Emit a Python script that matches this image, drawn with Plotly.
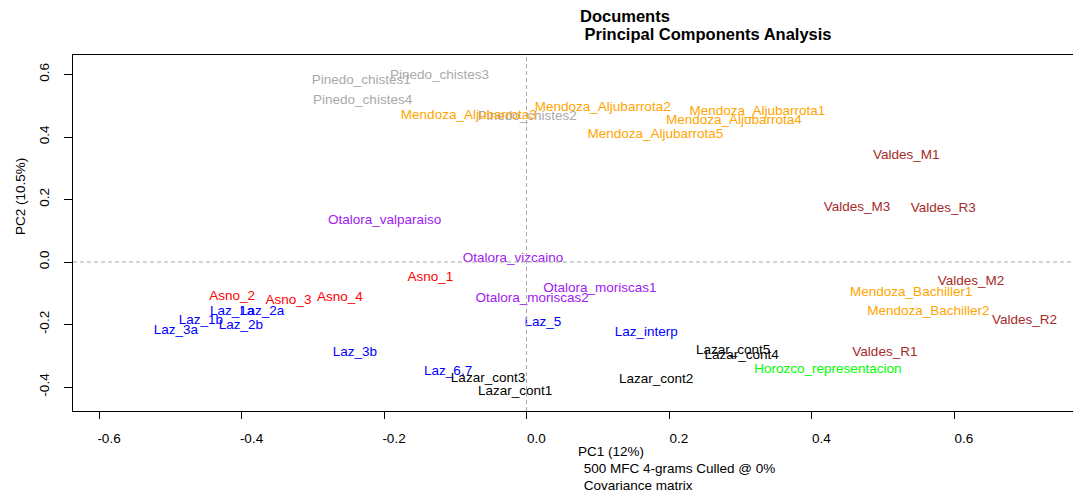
import plotly.graph_objects as go

# ---- data ----
labels = [
    "Pinedo_chistes1", "Pinedo_chistes3", "Pinedo_chistes4", "Pinedo_chistes2",
    "Mendoza_Aljubarrota3", "Mendoza_Aljubarrota2", "Mendoza_Aljubarrota1",
    "Mendoza_Aljubarrota4", "Mendoza_Aljubarrota5",
    "Valdes_M1", "Valdes_M3", "Valdes_R3",
    "Otalora_valparaiso", "Otalora_vizcaino", "Otalora_moriscas1", "Otalora_moriscas2",
    "Asno_1", "Asno_2", "Asno_3", "Asno_4",
    "Laz_1a", "Laz_2a", "Laz_1b", "Laz_2b", "Laz_3a", "Laz_3b", "Laz_5",
    "Laz_interp", "Laz_6,7",
    "Lazar_cont3", "Lazar_cont1", "Lazar_cont2", "Lazar_cont5", "Lazar_cont4",
    "Valdes_M2", "Mendoza_Bachiller1", "Mendoza_Bachiller2", "Valdes_R2", "Valdes_R1",
    "Horozco_representacion",
]
pc1 = [
    -0.232, -0.122, -0.230, 0.001,
    -0.081, 0.107, 0.324, 0.291, 0.181,
    0.533, 0.464, 0.585,
    -0.199, -0.019, 0.103, 0.008,
    -0.135, -0.413, -0.334, -0.262,
    -0.413, -0.371, -0.457, -0.401, -0.492, -0.241, 0.023,
    0.168, -0.110,
    -0.054, -0.016, 0.182, 0.290, 0.302,
    0.624, 0.540, 0.564, 0.699, 0.503,
    0.423,
]
pc2 = [
    0.579, 0.595, 0.517, 0.466,
    0.467, 0.494, 0.481, 0.454, 0.409,
    0.339, 0.173, 0.170,
    0.134, 0.010, -0.085, -0.117,
    -0.050, -0.111, -0.122, -0.114,
    -0.160, -0.160, -0.187, -0.204, -0.219, -0.291, -0.195,
    -0.226, -0.351,
    -0.372, -0.415, -0.375, -0.285, -0.300,
    -0.062, -0.098, -0.160, -0.188, -0.291,
    -0.345,
]
groups = [
    "Pinedo", "Pinedo", "Pinedo", "Pinedo",
    "Mendoza", "Mendoza", "Mendoza", "Mendoza", "Mendoza",
    "Valdes", "Valdes", "Valdes",
    "Otalora", "Otalora", "Otalora", "Otalora",
    "Asno", "Asno", "Asno", "Asno",
    "Laz", "Laz", "Laz", "Laz", "Laz", "Laz", "Laz", "Laz", "Laz",
    "Lazar", "Lazar", "Lazar", "Lazar", "Lazar",
    "Valdes", "Mendoza", "Mendoza", "Valdes", "Valdes",
    "Horozco",
]
group_order = ["Pinedo", "Mendoza", "Valdes", "Otalora", "Asno", "Laz", "Lazar", "Horozco"]
x_ticks = [-0.6, -0.4, -0.2, 0.0, 0.2, 0.4, 0.6]
y_ticks = [-0.4, -0.2, 0.0, 0.2, 0.4, 0.6]
title_lines = ["Documents", " Principal Components Analysis"]
x_caption = ["PC1 (12%)", " 500 MFC 4-grams Culled @ 0%", " Covariance matrix"]
y_title = "PC2 (10.5%)"

# ---- styles ----
colors = {
    "Pinedo": "#A9A9A9", "Mendoza": "#FFA500", "Valdes": "#A52A2A",
    "Otalora": "#A020F0", "Asno": "#FF0000", "Laz": "#0000FF",
    "Lazar": "#000000", "Horozco": "#00FF00",
}
FONT = "Liberation Sans, Arial, sans-serif"
W, H = 1073, 495
L, T, B = 73, 55, 411   # plot area pixels
R = 1073

fig = go.Figure()
for g in group_order:
    idx = [i for i, gg in enumerate(groups) if gg == g]
    fig.add_trace(go.Scatter(
        x=[pc1[i] for i in idx], y=[pc2[i] for i in idx],
        text=[labels[i] for i in idx],
        mode="text", textposition="middle center",
        textfont=dict(family=FONT, size=13.5, color=colors[g]),
        cliponaxis=False, showlegend=False, hoverinfo="text",
    ))

# reference lines at zero
fig.add_hline(y=0, line=dict(color="#A8A8A8", width=1, dash="4px,3px"))
fig.add_vline(x=0, line=dict(color="#A8A8A8", width=1, dash="4px,3px"))

# axis ranges chosen so 0 falls where the reference puts it
x0px, xscale = 526.5, 712.5
y0px, yscale = 262.0, 312.5
xr = [(L - x0px) / xscale, (R - x0px) / xscale]
yr = [(y0px - B) / yscale, (y0px - T) / yscale]

fig.update_layout(
    width=W, height=H,
    margin=dict(l=L, r=W - R, t=T, b=H - B, pad=0),
    paper_bgcolor="white", plot_bgcolor="white",
    font=dict(family=FONT, size=13.5, color="black"),
    xaxis=dict(
        range=xr, tickvals=x_ticks, ticktext=[f"{v:.1f}" for v in x_ticks],
        showgrid=False, zeroline=False, showline=True, linecolor="black",
        linewidth=1, mirror=True, ticks="outside", ticklen=7, tickcolor="black",
        tickfont=dict(family=FONT, size=13.5, color="black"),
        ticklabelshift=10, ticklabelstandoff=8,
    ),
    yaxis=dict(
        range=yr, tickvals=y_ticks, ticktext=[f"{v:.1f}" for v in y_ticks],
        showgrid=False, zeroline=False, showline=True, linecolor="black",
        linewidth=1, mirror=False, ticks="outside", ticklen=8, tickcolor="black",
        tickangle=-90, tickfont=dict(family=FONT, size=13.5, color="black"),
        ticklabelstandoff=10,
    ),
)

pw, ph = R - L, B - T
def px_x(px):
    return (px - L) / pw
def px_y(py):
    return (B - py) / ph

# title (two left-aligned bold lines)
fig.add_annotation(text=f"<b>{title_lines[0]}</b>", x=px_x(578), y=px_y(16),
                   xref="paper", yref="paper", xanchor="left", yanchor="middle",
                   showarrow=False, font=dict(family=FONT, size=16.5, color="black"))
fig.add_annotation(text=f"<b>{title_lines[1]}</b>", x=px_x(578), y=px_y(34),
                   xref="paper", yref="paper", xanchor="left", yanchor="middle",
                   showarrow=False, font=dict(family=FONT, size=16.5, color="black"))

# x caption lines
for line, (lx, ly) in zip(x_caption, [(576, 451), (578, 468), (578, 485)]):
    fig.add_annotation(text=line.replace(" ", "&nbsp;", 1) if line.startswith(" ") else line,
                       x=px_x(lx), y=px_y(ly), xref="paper", yref="paper",
                       xanchor="left", yanchor="middle", showarrow=False,
                       font=dict(family=FONT, size=13.5, color="black"))

# y title
fig.add_annotation(text=y_title, x=px_x(20), y=px_y(197), xref="paper", yref="paper",
                   xanchor="center", yanchor="middle", textangle=-90, showarrow=False,
                   font=dict(family=FONT, size=13.5, color="black"))

fig.write_html("out.html")
